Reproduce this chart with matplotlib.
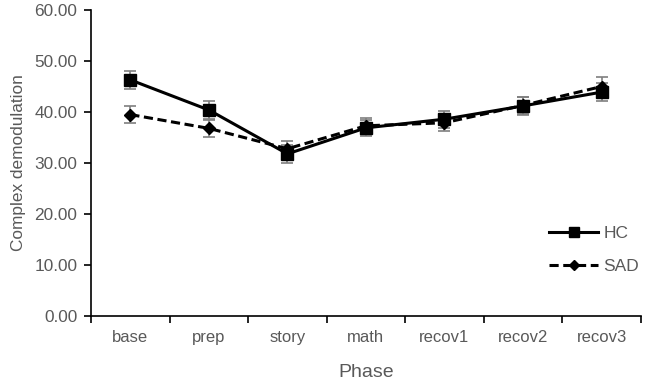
import matplotlib.pyplot as plt
import numpy as np
from matplotlib.ticker import FormatStrFormatter

plt.rcParams['font.family'] = ['Liberation Sans', 'DejaVu Sans']

phases = ['base', 'prep', 'story', 'math', 'recov1', 'recov2', 'recov3']
hc = [46.3, 40.4, 31.8, 36.9, 38.6, 41.2, 43.9]
hc_err = [1.8, 1.8, 1.7, 1.6, 1.7, 1.7, 1.8]
sad = [39.5, 36.8, 32.8, 37.3, 37.9, 41.3, 45.0]
sad_err = [1.7, 1.6, 1.6, 1.6, 1.7, 1.6, 1.8]

grey = '#595959'
x = np.arange(len(phases))

fig = plt.figure(figsize=(6.46, 3.85), dpi=100)
ax = fig.add_axes([0.141, 0.179, 0.851, 0.795])

# error bars first (grey), then the lines on top
ax.errorbar(x, hc, yerr=hc_err, fmt='none', ecolor='#7f7f7f', elinewidth=1.2,
            capsize=4, capthick=1.2, zorder=2)
ax.errorbar(x, sad, yerr=sad_err, fmt='none', ecolor='#7f7f7f', elinewidth=1.2,
            capsize=4, capthick=1.2, zorder=2)
ax.plot(x, hc, color='black', lw=2.2, marker='s', ms=8, label='HC', zorder=3)
ax.plot(x, sad, color='black', lw=2.2, ls=(0, (3, 1.5)), marker='D', ms=6,
        label='SAD', zorder=3)

ax.set_xlim(-0.5, len(phases) - 0.5)
ax.set_ylim(0, 60)
ax.set_yticks(np.arange(0, 61, 10))
ax.yaxis.set_major_formatter(FormatStrFormatter('%.2f'))
ax.set_xticks(np.arange(-0.5, len(phases), 1))
ax.set_xticklabels([])
ax.set_xticks(x, minor=True)
ax.set_xticklabels(phases, minor=True)
ax.tick_params(axis='x', which='minor', length=0, pad=10, labelsize=12, labelcolor=grey)
ax.tick_params(axis='x', which='major', length=5, width=1.2, direction='out')
ax.tick_params(axis='y', length=5, width=1.2, direction='out', labelsize=12.4,
               labelcolor=grey, pad=5)

for s in ['top', 'right']:
    ax.spines[s].set_visible(False)
for s in ['left', 'bottom']:
    ax.spines[s].set_linewidth(1.2)

ax.set_xlabel('Phase', fontsize=14, color=grey, labelpad=14)
ax.set_ylabel('Complex demodulation', fontsize=12.4, color=grey, labelpad=6)

leg = ax.legend(loc='center right', bbox_to_anchor=(1.025, 0.216), frameon=False,
                fontsize=12.5, handlelength=2.8, labelspacing=1.0, handletextpad=0.3,
                markerscale=0.85)
for t in leg.get_texts():
    t.set_color(grey)

plt.savefig('out.png', dpi=100)
